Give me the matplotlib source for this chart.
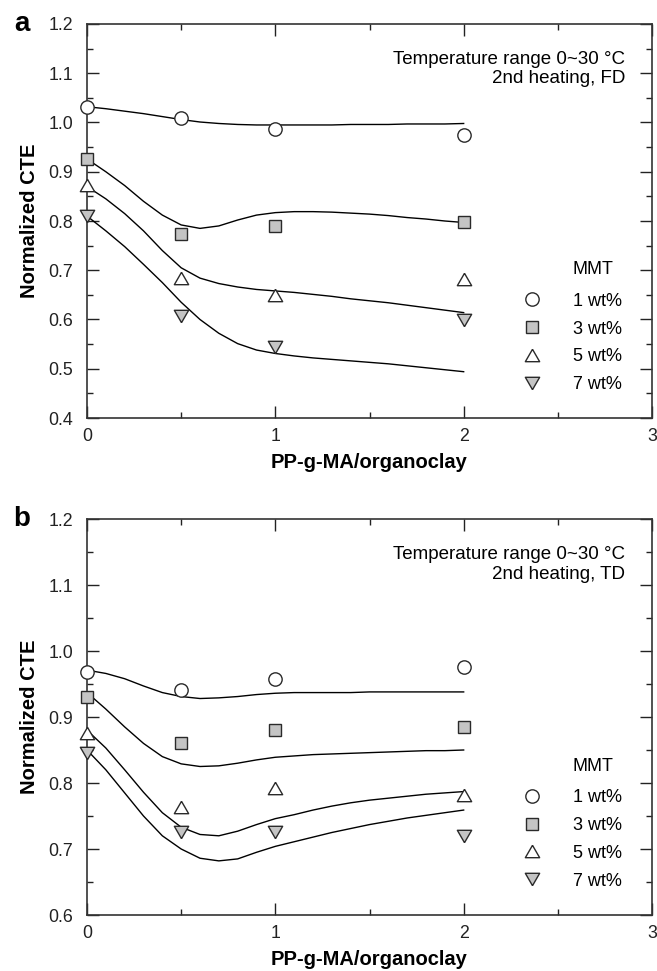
import matplotlib
matplotlib.use("Agg")
import matplotlib.pyplot as plt
from matplotlib.ticker import MultipleLocator, FormatStrFormatter
from matplotlib.lines import Line2D

plt.rcParams['font.family'] = ['Liberation Sans', 'DejaVu Sans']

# ---- data ----
x_pts = [0, 0.5, 1, 2]
series_labels = ["1 wt%", "3 wt%", "5 wt%", "7 wt%"]

# panel a (FD) measured points
a_1wt = [1.032, 1.010, 0.987, 0.974]
a_3wt = [0.926, 0.773, 0.790, 0.797]
a_5wt = [0.873, 0.684, 0.650, 0.682]
a_7wt = [0.811, 0.608, 0.545, 0.598]

# panel b (TD) measured points
b_1wt = [0.968, 0.941, 0.958, 0.975]
b_3wt = [0.931, 0.860, 0.881, 0.885]
b_5wt = [0.875, 0.764, 0.792, 0.782]
b_7wt = [0.845, 0.726, 0.726, 0.720]

# fitted curves at these x values
x_curve = [0.0, 0.1, 0.2, 0.3, 0.4, 0.5, 0.6, 0.7, 0.8, 0.9, 1.0,
           1.1, 1.2, 1.3, 1.4, 1.5, 1.6, 1.7, 1.8, 1.9, 2.0]
a_curve_1 = [1.032, 1.028, 1.023, 1.018, 1.012, 1.006, 1.001, 0.998, 0.996, 0.995, 0.995,
             0.995, 0.995, 0.995, 0.996, 0.996, 0.996, 0.997, 0.997, 0.997, 0.998]
a_curve_3 = [0.926, 0.900, 0.872, 0.840, 0.812, 0.792, 0.785, 0.790, 0.802, 0.812, 0.817,
             0.819, 0.819, 0.818, 0.816, 0.814, 0.811, 0.807, 0.804, 0.800, 0.797]
a_curve_5 = [0.870, 0.845, 0.815, 0.780, 0.740, 0.705, 0.684, 0.673, 0.666, 0.661, 0.658,
             0.655, 0.651, 0.647, 0.642, 0.638, 0.634, 0.629, 0.624, 0.619, 0.614]
a_curve_7 = [0.810, 0.780, 0.748, 0.712, 0.675, 0.635, 0.600, 0.572, 0.551, 0.538, 0.531,
             0.526, 0.522, 0.519, 0.516, 0.513, 0.510, 0.506, 0.502, 0.498, 0.494]

b_curve_1 = [0.971, 0.966, 0.958, 0.947, 0.937, 0.931, 0.928, 0.929, 0.931, 0.934, 0.936,
             0.937, 0.937, 0.937, 0.937, 0.938, 0.938, 0.938, 0.938, 0.938, 0.938]
b_curve_3 = [0.937, 0.912, 0.885, 0.860, 0.840, 0.829, 0.825, 0.826, 0.830, 0.835, 0.839,
             0.841, 0.843, 0.844, 0.845, 0.846, 0.847, 0.848, 0.849, 0.849, 0.850]
b_curve_5 = [0.880, 0.853, 0.820, 0.786, 0.755, 0.733, 0.722, 0.720, 0.727, 0.737, 0.746,
             0.752, 0.759, 0.765, 0.770, 0.774, 0.777, 0.780, 0.783, 0.785, 0.787]
b_curve_7 = [0.850, 0.820, 0.785, 0.750, 0.720, 0.700, 0.686, 0.682, 0.685, 0.695, 0.704,
             0.711, 0.718, 0.725, 0.731, 0.737, 0.742, 0.747, 0.751, 0.755, 0.759]

# ---- styles ----
GRAY = '#c4c4c4'
EDGE = '#2a2a2a'
TRI_UP = [(0, 0.866), (-1, -0.866), (1, -0.866), (0, 0.866)]
TRI_DN = [(0, -0.866), (-1, 0.866), (1, 0.866), (0, -0.866)]
marker_styles = [
    dict(marker='o', mfc='white', ms=9.6),
    dict(marker='s', mfc=GRAY, ms=8.6),
    dict(marker=TRI_UP, mfc='white', ms=10.3),
    dict(marker=TRI_DN, mfc=GRAY, ms=10.3),
]

fig = plt.figure(figsize=(6.57, 9.71), dpi=100)
ax_a = fig.add_axes([87/657, 1-418/971, 565/657, 394/971])
ax_b = fig.add_axes([87/657, 1-915/971, 565/657, 396/971])

panels = [
    (ax_a, [a_1wt, a_3wt, a_5wt, a_7wt], [a_curve_1, a_curve_3, a_curve_5, a_curve_7],
     (0.4, 1.2), "a", "Temperature range 0~30 \u00b0C\n2nd heating, FD"),
    (ax_b, [b_1wt, b_3wt, b_5wt, b_7wt], [b_curve_1, b_curve_3, b_curve_5, b_curve_7],
     (0.6, 1.2), "b", "Temperature range 0~30 \u00b0C\n2nd heating, TD"),
]

for ax, pts, curves, ylim, letter, note in panels:
    for c in curves:
        ax.plot(x_curve, c, color='black', lw=1.0, zorder=2)
    handles = []
    for p, st, lab in zip(pts, marker_styles, series_labels):
        ax.plot(x_pts, p, ls='none', marker=st['marker'], ms=st['ms'], mfc=st['mfc'],
                mec=EDGE, mew=1.0, zorder=3, clip_on=False)
        handles.append(Line2D([], [], ls='none', marker=st['marker'], ms=st['ms'],
                              mfc=st['mfc'], mec=EDGE, mew=1.0, label=lab))
    ax.set_xlim(0, 3)
    ax.set_ylim(*ylim)
    ax.xaxis.set_major_locator(MultipleLocator(1))
    ax.xaxis.set_minor_locator(MultipleLocator(0.5))
    ax.yaxis.set_major_locator(MultipleLocator(0.1))
    ax.yaxis.set_minor_locator(MultipleLocator(0.05))
    ax.yaxis.set_major_formatter(FormatStrFormatter('%.1f'))
    ax.tick_params(which='both', direction='in', top=True, right=True,
                   labelsize=12.8, colors='#222222', width=1.0)
    ax.tick_params(which='major', length=8.5)
    ax.tick_params(which='minor', length=4.3)
    ax.tick_params(axis='x', pad=7)
    ax.tick_params(axis='y', pad=10)
    for s in ax.spines.values():
        s.set_linewidth(1.2)
        s.set_color('#333333')
    ax.set_xlabel("PP-g-MA/organoclay", fontsize=14.5, fontweight='bold', labelpad=6)
    ax.set_ylabel("Normalized CTE", fontsize=14.5, fontweight='bold', labelpad=7)
    ax.text(0.952, 0.932, note, transform=ax.transAxes, ha='right', va='top',
            fontsize=13.5, linespacing=1.2, multialignment='right')
    ax.text(-0.115, 1.0, letter, transform=ax.transAxes, ha='center', va='center',
            fontsize=20, fontweight='bold')
    ax.text(0.860, 0.376, "MMT", transform=ax.transAxes, ha='left', va='center',
            fontsize=13)
    ax.legend(handles=handles, loc='upper left', bbox_to_anchor=(0.766, 0.318),
              frameon=False, fontsize=13, handlelength=1.4, handletextpad=1.55,
              labelspacing=0.6, borderpad=0, borderaxespad=0, numpoints=1)

fig.savefig("out.png", dpi=100)
